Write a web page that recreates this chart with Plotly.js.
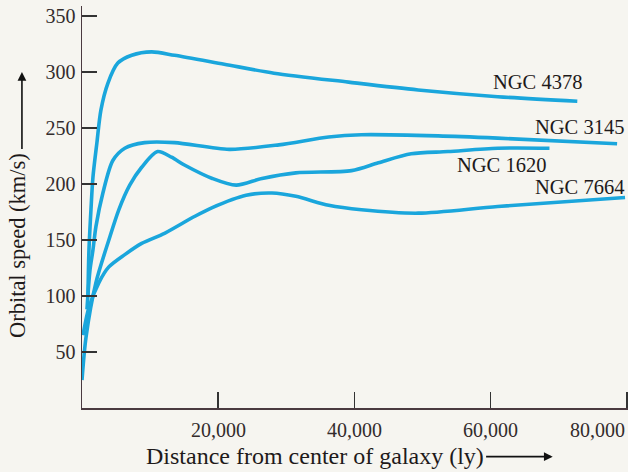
<!DOCTYPE html>
<html>
<head>
<meta charset="utf-8">
<script src="https://cdn.plot.ly/plotly-3.0.1.min.js"></script>
<style>html,body{margin:0;padding:0;background:#f6f5f0;}</style>
</head>
<body>
<div id="chart" style="width:628px;height:472px;"></div>
<script>
// Distance (ly) and orbital speed (km/s)
const ngc4378_x = [876, 1022, 1314, 1606, 2190, 2774, 3796, 5256, 7300, 10220, 13578, 20878, 28178, 39128, 49348, 61028, 72708];
const ngc4378_y = [101, 141, 177, 206, 237, 266, 290, 308, 315, 318, 315, 307, 299, 291, 284, 278, 274];

const ngc3145_x = [730, 1168, 1606, 2044, 3066, 4526, 6278, 9198, 13578, 21608, 28908, 36208, 41026, 52268, 61028, 78548];
const ngc3145_y = [88, 123, 141, 162, 192, 221, 232, 237, 237, 231, 235, 242, 244, 243, 241, 236];

const ngc1620_x = [0, 584, 2044, 3942, 5402, 7008, 8760, 11096, 13140, 15038, 19126, 22630, 26426, 31390, 39566, 43508, 48326, 53728, 61028, 68620];
const ngc1620_y = [25, 63, 112, 150, 177, 199, 215, 229, 224, 217, 205, 199, 205, 210, 212, 219, 227, 229, 232, 232];

const ngc7664_x = [146, 1022, 2482, 3942, 6278, 8760, 12118, 16498, 19126, 24090, 27886, 31390, 36208, 41026, 49348, 61028, 79716];
const ngc7664_y = [65, 90, 112, 126, 137, 147, 156, 171, 179, 190, 192, 189, 181, 177, 174, 180, 188];

const seriesNames = ["NGC 4378", "NGC 3145", "NGC 1620", "NGC 7664"];
const yTickVals = [50, 100, 150, 200, 250, 300, 350];
const xTickVals = [20000, 40000, 60000, 80000];
const xTickText = ["20,000", "40,000", "60,000", "80,000"];

const lineColor = "#1aa6dc";
const font = "Liberation Serif, Times New Roman, serif";
const textColor = "#332c2c";

const xs = [ngc4378_x, ngc3145_x, ngc1620_x, ngc7664_x];
const ys = [ngc4378_y, ngc3145_y, ngc1620_y, ngc7664_y];
const traces = seriesNames.map((n, i) => ({
  type: "scatter", mode: "lines", name: n,
  x: xs[i], y: ys[i],
  line: {color: lineColor, width: 3.6, shape: "spline", smoothing: 0.8},
  hoverinfo: "skip"
}));

const labelPos = [
  {x: 66900, y: 291},
  {x: 73050, y: 251},
  {x: 61630, y: 217},
  {x: 73050, y: 197}
];
const annotations = seriesNames.map((n, i) => ({
  text: n, x: labelPos[i].x, y: labelPos[i].y, xref: "x", yref: "y",
  showarrow: false, font: {family: font, size: 20.5, color: "#1e1a1a"}
}));

// x tick labels (last one right-aligned at the edge like the reference)
xTickVals.forEach((v, i) => {
  annotations.push({
    text: xTickText[i], x: v, y: -0.055, xref: "x", yref: "paper",
    xanchor: i === xTickVals.length - 1 ? "right" : "center", yanchor: "middle",
    showarrow: false, font: {family: font, size: 20, color: textColor}
  });
});

// axis titles with their arrows
annotations.push({
  text: "Distance from center of galaxy (ly)", xref: "paper", yref: "paper",
  x: 0.4276, y: -0.119, xanchor: "center", yanchor: "middle", showarrow: false,
  font: {family: font, size: 24, color: "#1e1a1a"}
});
annotations.push({
  text: "", xref: "x", yref: "paper", x: 69100, y: -0.121,
  axref: "x", ax: 59100, ayref: "pixel", ay: 0,
  showarrow: true, arrowhead: 2, arrowsize: 1.1, arrowwidth: 1.6, arrowcolor: "#111"
});
annotations.push({
  text: "Orbital speed (km/s)", xref: "paper", yref: "paper",
  x: -0.117, y: 0.403, xanchor: "center", yanchor: "middle", textangle: -90, showarrow: false,
  font: {family: font, size: 22.5, color: "#1e1a1a"}
});
annotations.push({
  text: "", xref: "paper", yref: "y", x: -0.110, y: 300,
  axref: "pixel", ax: 0, ayref: "y", ay: 230,
  showarrow: true, arrowhead: 2, arrowsize: 1.1, arrowwidth: 1.6, arrowcolor: "#111"
});

const layout = {
  width: 628, height: 472,
  margin: {l: 82, r: 0, t: 6, b: 64},
  paper_bgcolor: "#f6f5f0", plot_bgcolor: "#f6f5f0",
  showlegend: false,
  xaxis: {
    range: [0, 80150], showgrid: false, zeroline: false,
    showline: true, linecolor: "#4a3a40", linewidth: 1.5,
    tickvals: xTickVals, ticks: "inside", ticklen: 16, tickwidth: 1.5, tickcolor: "#333",
    showticklabels: false, fixedrange: true
  },
  yaxis: {
    range: [0, 359], showgrid: false, zeroline: false,
    showline: true, linecolor: "#4a3a40", linewidth: 1.5,
    tickvals: yTickVals, ticks: "inside", ticklen: 15, tickwidth: 1.5, tickcolor: "#333",
    tickfont: {family: font, size: 20, color: textColor}, ticklabelstandoff: 1,
    fixedrange: true
  },
  annotations: annotations
};

Plotly.newPlot("chart", traces, layout, {staticPlot: true});
</script>
</body>
</html>
